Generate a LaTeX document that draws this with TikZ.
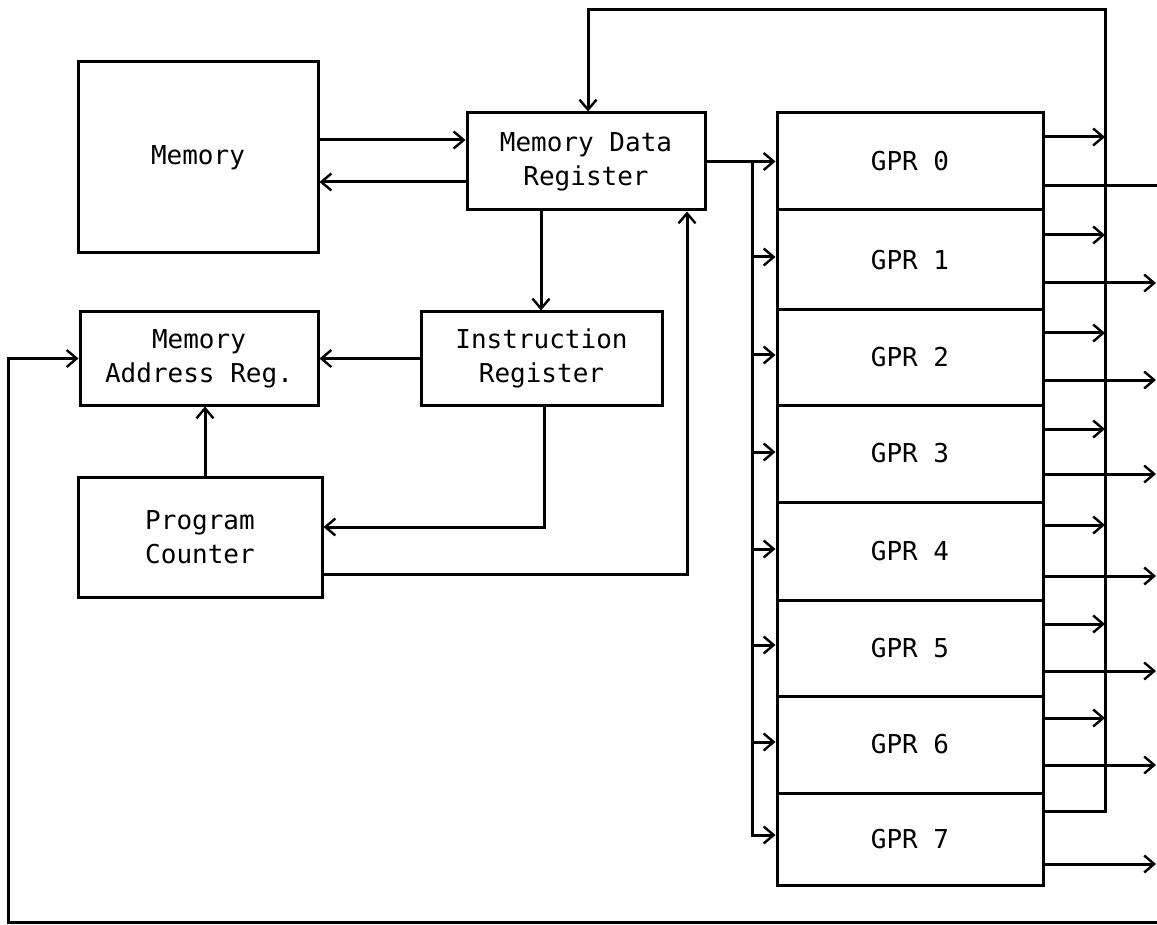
\documentclass[tikz,border=0pt]{standalone}
\usepackage{fontspec}
\newfontfamily\tfont{DejaVu Sans Mono}
\usetikzlibrary{arrows.meta}
\tikzset{
  x=1pt, y=-1pt,
  ln/.style={line width=3pt},
  arr/.style={ln, -{Straight Barb[length=10pt,width=17pt,line width=2.4pt]}},
  blk/.style={draw, line width=3pt, rectangle, inner sep=0pt, align=center,
              font=\tfont\fontsize{26}{34}\selectfont},
}
\begin{document}
\begin{tikzpicture}
\useasboundingbox (0,0) rectangle (1157,925);
% blocks
\node[blk, minimum width=240pt, minimum height=191pt] (mem) at (198,157.5) {Memory};
\node[blk, minimum width=238pt, minimum height=97pt] (mdr) at (586,161.5) {Memory Data\\Register};
\node[blk, minimum width=241pt, minimum height=93pt] (ir) at (541.5,358.5) {Instruction\\Register};
\node[blk, minimum width=238pt, minimum height=93pt] (mar) at (199,358.5) {Memory\\Address Reg.};
\node[blk, minimum width=244pt, minimum height=120pt] (pc) at (200,537) {Program\\Counter};
% GPR stack
\node[blk, minimum width=266pt, minimum height=97pt] (g0) at (910,161.5) {GPR 0};
\node[blk, minimum width=266pt, minimum height=100pt] (g1) at (910,260) {GPR 1};
\node[blk, minimum width=266pt, minimum height=95pt] (g2) at (910,357.5) {GPR 2};
\node[blk, minimum width=266pt, minimum height=97pt] (g3) at (910,453.5) {GPR 3};
\node[blk, minimum width=266pt, minimum height=98pt] (g4) at (910,551) {GPR 4};
\node[blk, minimum width=266pt, minimum height=96pt] (g5) at (910,648) {GPR 5};
\node[blk, minimum width=266pt, minimum height=97pt] (g6) at (910,744.5) {GPR 6};
\node[blk, minimum width=266pt, minimum height=92pt] (g7) at (910,839) {GPR 7};
% bus coordinates
\coordinate (busBot) at (1105,811);
\coordinate (busTop) at (1105,10);
\coordinate (busL) at (588,10);
\coordinate (lbTop) at (752,161.5);
\coordinate (lbBot) at (752,835);
\coordinate (rEdge) at (1157,922);
\coordinate (lEdge) at (8,922);
\coordinate (lTurn) at (8,358.5);
% memory <-> MDR
\draw[arr] (mem.east |- 0,140) -- (mdr.west |- 0,140);
\draw[arr] (mdr.west |- 0,182) -- (mem.east |- 0,182);
% MDR -> IR
\draw[arr] (mdr.south -| 541,0) -- (ir.north -| 541,0);
% IR -> MAR
\draw[arr] (ir.west) -- (mar.east);
% PC -> MAR
\draw[arr] (pc.north -| 205,0) -- (mar.south -| 205,0);
% IR -> PC
\draw[arr] (ir.south -| 544,0) |- (pc.east |- 0,527);
% PC -> MDR
\draw[arr] (pc.east |- 0,574) -| (mdr.south -| 687,0);
% top bus from GPRs back into MDR
\draw[arr, line join=miter] (g7.east |- busBot) -- (busBot) -- (busTop) -- (busL) -- (mdr.north -| busL);
% GPR inputs from right bus
\foreach \g/\yy in {g0/137, g1/235, g2/333, g3/429, g4/525, g5/624, g6/718}
  \draw[arr] (\g.east |- 0,\yy) -- (busTop |- 0,\yy);
% GPR outputs
\draw[ln] (g0.east |- 0,186) -- (1157,186);
\foreach \g/\yy in {g1/283, g2/380, g3/474, g4/576, g5/671, g6/765, g7/864}
  \draw[arr] (\g.east |- 0,\yy) -- (1156,\yy);
% left bus from MDR
\draw[arr] (mdr.east) -- (g0.west);
\draw[ln, line cap=rect] (lbTop) -- (lbBot);
\foreach \g/\yy in {g1/257, g2/355, g3/452, g4/549, g5/645, g6/742, g7/835}
  \draw[arr] (lbTop |- 0,\yy) -- (\g.west |- 0,\yy);
% bottom return line to MAR
\draw[arr, line join=miter] (rEdge) -- (lEdge) -- (lTurn) -- (mar.west);
\end{tikzpicture}
\end{document}
